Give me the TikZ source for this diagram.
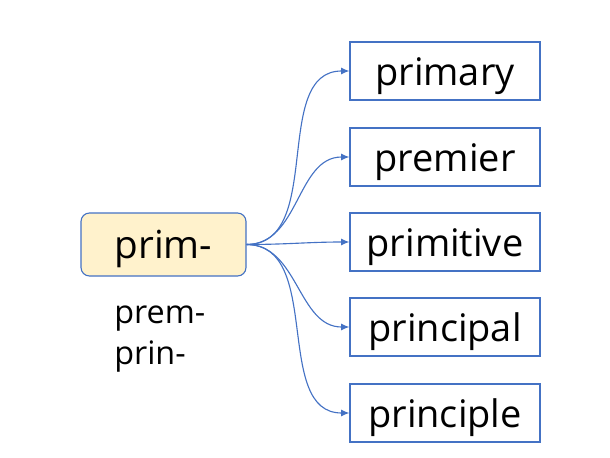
\documentclass[tikz,border=0pt]{standalone}
\usepackage{fontspec}
\setmainfont{Open Sans}
\usetikzlibrary{arrows.meta}
\definecolor{linkblue}{HTML}{4472C4}
\definecolor{rootfill}{HTML}{FFF2CC}
\tikzset{
  rootbox/.style={draw=linkblue,fill=rootfill,rounded corners=6pt,line width=0.8pt,
    minimum width=4.125cm,minimum height=1.575cm,text height=24.5pt,text depth=4pt,
    font=\fontsize{27.5}{32}\selectfont},
  wordbox/.style={draw=linkblue,line width=0.8pt,
    minimum width=4.75cm,minimum height=1.45cm,text height=24pt,text depth=4pt,
    font=\fontsize{27}{32}\selectfont},
  variant/.style={anchor=base west,inner sep=0pt,font=\fontsize{23}{29}\selectfont},
  link/.style={linkblue,line width=0.8pt,-{Latex[length=6pt,width=5pt]}}
}
\begin{document}
\begin{tikzpicture}
  \useasboundingbox (0,0) rectangle (15.25,11.425);
  % root and variants
  \node[rootbox] (prim) at (4.0875,5.3125) {prim-};
  \node[variant] (prem) at (2.85,3.35) {prem-};
  \node[variant] (prin) at (2.85,2.325) {prin-};
  % derived words
  \node[wordbox] (primary)   at (11.125,9.65)  {primary};
  \node[wordbox] (premier)   at (11.125,7.5)   {premier};
  \node[wordbox] (primitive) at (11.125,5.375) {primitive};
  \node[wordbox] (principal) at (11.125,3.25)  {principal};
  \node[wordbox] (principle) at (11.125,1.1)   {principle};
  \foreach \w in {primary,premier,primitive,principal,principle}
    \draw[link] (prim.east) to[out=0,in=180] (\w.west);
\end{tikzpicture}
\end{document}
